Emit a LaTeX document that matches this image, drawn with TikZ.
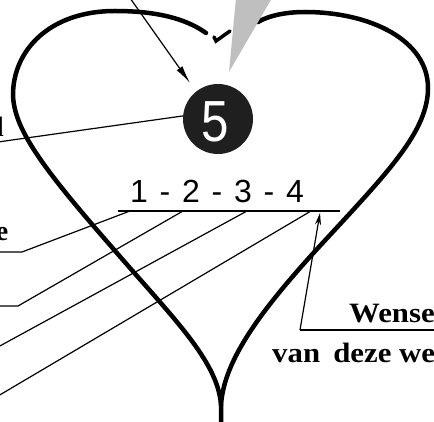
\documentclass[tikz,border=0pt]{standalone}
\usepackage{fontspec}
\setmainfont{Liberation Serif}
\newfontfamily\sansf{Liberation Sans}
\usetikzlibrary{arrows.meta}
\begin{document}
\begin{tikzpicture}[x=1pt,y=-1pt,
  heartline/.style={line width=4.5pt, line cap=round, line join=round},
  leader/.style={line width=1.2pt},
  lbl/.style={inner sep=0pt, font=\bfseries\fontsize{28}{28}\selectfont},
  numlbl/.style={inner sep=0pt, font=\sansf\fontsize{32}{32}\selectfont},
]
\useasboundingbox (0,0) rectangle (434,422);
\clip (0,0) rectangle (434,422);
\fill[white] (0,0) rectangle (434,422);

% heart outline
\draw[heartline] (206,33) .. controls (185,18) and (155,11) .. (115,11)
  .. controls (50,11) and (13,50) .. (13,95)
  .. controls (14,128) and (40,165) .. (110,245)
  .. controls (170,315) and (218,360) .. (221,405) -- (221,430);
\draw[heartline] (221,405) .. controls (224,360) and (260,310) .. (330,235)
  .. controls (390,170) and (428,130) .. (428,88)
  .. controls (428,40) and (370,12) .. (305,12)
  .. controls (285,12) and (268,16) .. (258,22);
\draw[line width=3.5pt, line cap=round] (214,37) -- (216,41) -- (230,31);

% gray wedge
\fill[black!25] (236,-2) -- (272,-2) -- (229,72) -- cycle;

% circle with 5
\node[circle, fill=black!88, minimum size=70pt, inner sep=0pt] (c5) at (218,119) {};
\node[inner sep=0pt, text=white, font=\sansf\fontsize{58}{58}\selectfont] (five) at (215,121.5) {\scalebox{0.85}[1]{5}};

% top arrow
\coordinate (A0) at (130,-2);
\coordinate (A1) at (190,83);
\draw[leader, -{Latex[length=18pt,width=7pt]}] (A0) -- (A1);

% leader from circle
\coordinate (L0) at (-2,142);
\draw[leader] (c5.175) -- (L0);

% number label and its line
\node[numlbl, anchor=base] (nums) at (217,203)
  {1\hspace{11.8pt}-\hspace{11.8pt}2\hspace{11.8pt}-\hspace{11.8pt}3\hspace{11.8pt}-\hspace{11.8pt}4};
\coordinate (H1) at (118,211);
\coordinate (H2) at (340,211);
\draw[leader] (H1) -- (H2);

\coordinate (P1) at (130,211);
\coordinate (P2) at (183,211);
\coordinate (P3) at (247,211);
\coordinate (P4) at (311,211);
\coordinate (Q1) at (22,252);
\coordinate (R1) at (-2,252);
\coordinate (Q2) at (18,306);
\coordinate (R2) at (-2,306);
\coordinate (R3) at (-2,347);
\coordinate (R4) at (-2,396);
\draw[leader] (P1) -- (Q1) -- (R1);
\draw[leader] (P2) -- (Q2) -- (R2);
\draw[leader] (P3) -- (R3);
\draw[leader] (P4) -- (R4);

% right label
\coordinate (W0) at (300,330);
\coordinate (W1) at (320,213);
\coordinate (W2) at (440,330);
\draw[leader, -{Stealth[length=12pt,width=6pt]}] (W0) -- (W1);
\draw[leader] (W0) -- (W2);
\node[lbl, anchor=base west] (wense) at (349,323) {\scalebox{1.1}[1]{Wense}};
\node[lbl, anchor=base west] (vdw) at (272,362) {\scalebox{1.1}[1]{van\hspace{5pt} deze we}};

% clipped text fragments at the left edge
\node[lbl, anchor=base east] (fragd) at (4,137) {d};
\node[lbl, anchor=base east] (frage) at (8.5,241) {e};
\end{tikzpicture}
\end{document}
